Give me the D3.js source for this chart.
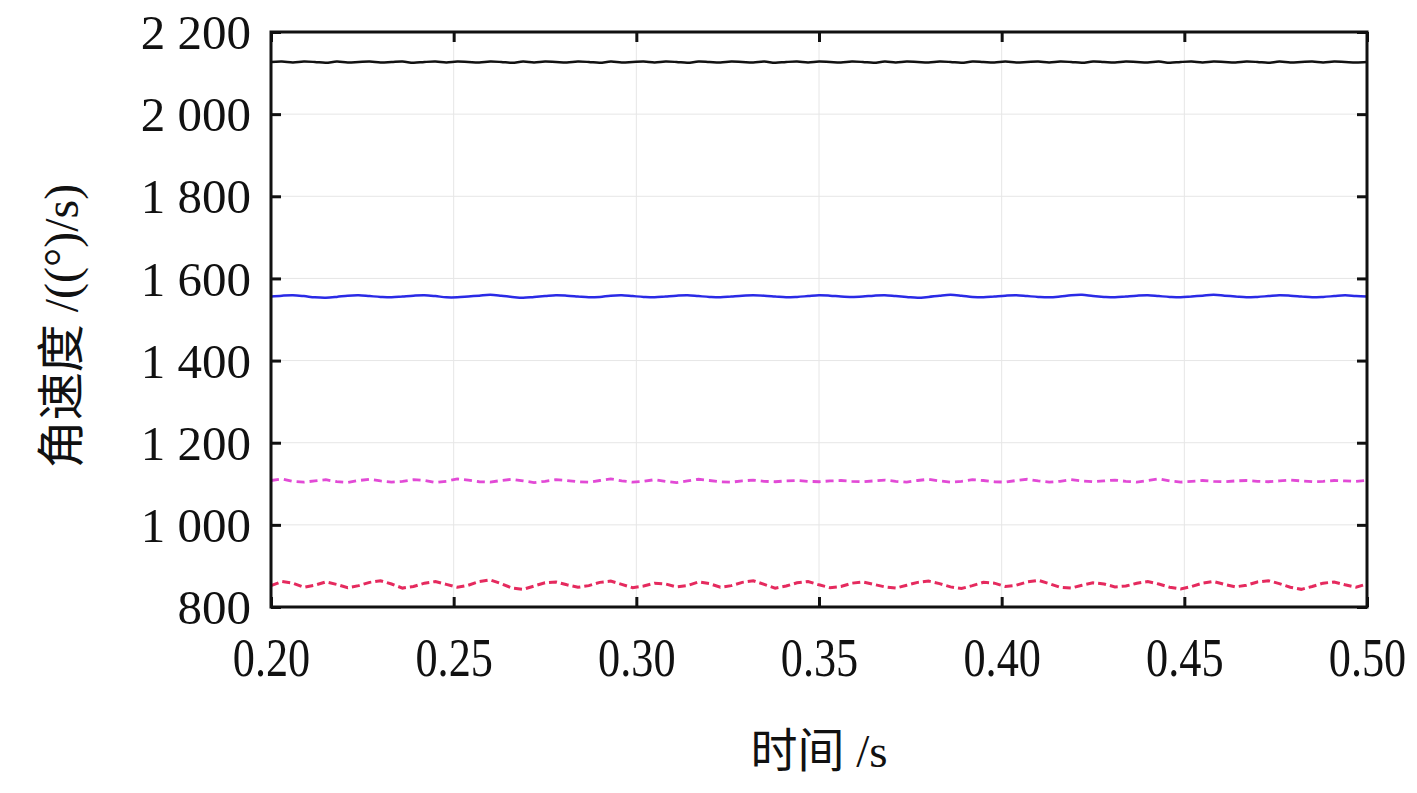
<!DOCTYPE html>
<html><head><meta charset="utf-8">
<script src="https://cdn.jsdelivr.net/npm/d3@7/dist/d3.min.js"></script>
<style>
html,body{margin:0;padding:0;background:#fff;}
svg{display:block;}
</style>
</head><body>
<svg id="chart" width="1417" height="793"></svg>
<script>
const xTicks = [0.20,0.25,0.30,0.35,0.40,0.45,0.50];
const yTicks = [800,1000,1200,1400,1600,1800,2000,2200];
const xTitle = "时间 /s";
const yTitle = "角速度 /((°)/s)";

const time = [0.200,0.203,0.206,0.209,0.212,0.215,0.218,0.221,0.224,0.227,
0.230,0.233,0.236,0.239,0.242,0.245,0.248,0.251,0.254,0.257,
0.260,0.263,0.266,0.269,0.272,0.275,0.278,0.281,0.284,0.287,
0.290,0.293,0.296,0.299,0.302,0.305,0.308,0.311,0.314,0.317,
0.320,0.323,0.326,0.329,0.332,0.335,0.338,0.341,0.344,0.347,
0.350,0.353,0.356,0.359,0.362,0.365,0.368,0.371,0.374,0.377,
0.380,0.383,0.386,0.389,0.392,0.395,0.398,0.401,0.404,0.407,
0.410,0.413,0.416,0.419,0.422,0.425,0.428,0.431,0.434,0.437,
0.440,0.443,0.446,0.449,0.452,0.455,0.458,0.461,0.464,0.467,
0.470,0.473,0.476,0.479,0.482,0.485,0.488,0.491,0.494,0.497,
0.500];

const blackSeries = [2127,2128,2126,2128,2127,2125,2128,2126,2127,2128,
2126,2127,2128,2125,2127,2128,2126,2128,2127,2126,
2128,2127,2125,2128,2126,2128,2127,2126,2128,2127,
2125,2128,2126,2127,2128,2126,2128,2127,2125,2128,
2127,2126,2128,2127,2126,2128,2125,2127,2128,2126,
2128,2127,2126,2128,2127,2125,2128,2126,2128,2127,
2126,2128,2127,2125,2128,2127,2126,2128,2126,2127,
2128,2126,2128,2127,2125,2128,2127,2126,2128,2127,
2126,2128,2125,2127,2128,2126,2128,2127,2126,2128,
2127,2125,2128,2126,2127,2128,2126,2128,2127,2126,
2127];

const blueSeries = [1556,1558,1559,1557,1554,1553,1555,1558,1559,1557,
1555,1554,1556,1558,1559,1557,1554,1554,1556,1558,
1560,1558,1555,1553,1555,1557,1559,1558,1556,1554,
1555,1558,1559,1557,1555,1554,1556,1558,1559,1557,
1555,1554,1556,1558,1559,1558,1556,1554,1555,1557,
1559,1558,1556,1555,1556,1558,1559,1557,1555,1553,
1555,1558,1560,1558,1555,1554,1556,1558,1559,1557,
1555,1554,1556,1559,1560,1557,1555,1554,1556,1558,
1559,1557,1555,1554,1556,1558,1560,1558,1556,1554,
1555,1557,1559,1558,1556,1554,1555,1557,1559,1557,
1556];

const magentaSeries = [1108,1112,1106,1104,1107,1110,1105,1103,1108,1111,
1107,1104,1106,1110,1108,1103,1106,1112,1109,1105,
1104,1108,1111,1107,1103,1106,1110,1108,1105,1104,
1108,1112,1107,1104,1106,1110,1106,1103,1107,1111,
1108,1105,1104,1107,1109,1106,1105,1107,1108,1106,
1105,1107,1108,1106,1105,1107,1109,1106,1104,1108,
1111,1107,1104,1106,1110,1108,1105,1104,1108,1111,
1107,1104,1106,1110,1107,1105,1107,1109,1106,1104,
1108,1112,1107,1104,1106,1108,1106,1105,1107,1108,
1106,1105,1107,1109,1107,1105,1106,1108,1107,1106,
1108];

const redSeries = [852,862,858,848,853,861,855,847,852,860,
864,856,846,850,858,862,855,848,853,862,
866,857,846,843,851,859,861,854,848,852,
860,863,855,847,851,858,856,849,852,861,
857,848,852,860,864,855,846,851,859,862,
854,847,850,858,861,855,849,846,853,860,
863,857,849,845,852,860,858,850,853,861,
865,857,848,846,853,859,856,849,851,858,
862,856,848,844,850,858,862,855,849,853,
861,864,857,848,843,850,858,861,854,848,
856];

const seriesList = [
  {values: blackSeries, color: "#111111", dash: null, width: 2.5, curve: d3.curveCatmullRom.alpha(0.5)},
  {values: blueSeries, color: "#2a2ae6", dash: null, width: 2.5, curve: d3.curveCatmullRom.alpha(0.5)},
  {values: magentaSeries, color: "#e24ad6", dash: "8,5", width: 2.8, curve: d3.curveLinear},
  {values: redSeries, color: "#e52a5e", dash: "8,4", width: 3, curve: d3.curveLinear}
];

const svg = d3.select("#chart");
const M = {left: 271, right: 1367, top: 32, bottom: 607};
const x = d3.scaleLinear().domain([0.20, 0.50]).range([M.left, M.right]);
const y = d3.scaleLinear().domain([800, 2200]).range([M.bottom, M.top]);

const fmtY = d => { const s = String(d); return s.length > 3 ? s.slice(0, s.length-3) + " " + s.slice(-3) : s; };

// gridlines
const grid = svg.append("g");
grid.selectAll("line.gx").data(xTicks.slice(1, -1)).enter().append("line")
  .attr("x1", d => x(d)).attr("x2", d => x(d)).attr("y1", M.top).attr("y2", M.bottom)
  .attr("stroke", "#e6e6e6").attr("stroke-width", 1);
grid.selectAll("line.gy").data(yTicks.slice(1, -1)).enter().append("line")
  .attr("y1", d => y(d)).attr("y2", d => y(d)).attr("x1", M.left).attr("x2", M.right)
  .attr("stroke", "#e6e6e6").attr("stroke-width", 1);

// series
svg.append("clipPath").attr("id", "clip").append("rect")
  .attr("x", M.left).attr("y", M.top).attr("width", M.right - M.left).attr("height", M.bottom - M.top);
const lines = svg.append("g").attr("clip-path", "url(#clip)");
seriesList.forEach(s => {
  const line = d3.line().x((d, i) => x(time[i])).y(d => y(d)).curve(s.curve);
  lines.append("path").datum(s.values).attr("d", line)
    .attr("fill", "none").attr("stroke", s.color).attr("stroke-width", s.width)
    .attr("stroke-dasharray", s.dash);
});

// axes with inward ticks
const tickLen = 10;
const axBottom = d3.axisBottom(x).tickValues(xTicks).tickSize(-tickLen).tickPadding(31).tickFormat(d3.format(".2f"));
const axTop = d3.axisTop(x).tickValues(xTicks).tickSize(-tickLen).tickFormat("");
const axLeft = d3.axisLeft(y).tickValues(yTicks).tickSize(-tickLen).tickPadding(20).tickFormat(fmtY);
const axRight = d3.axisRight(y).tickValues(yTicks).tickSize(-tickLen).tickFormat("");

function style(g){
  g.select(".domain").remove();
  g.selectAll(".tick line").attr("stroke", "#111").attr("stroke-width", 3);
  g.selectAll("text").attr("fill", "#111").attr("font-family", "'Liberation Serif', 'Times New Roman', serif");
}
const gB = svg.append("g").attr("transform", `translate(0,${M.bottom})`).call(axBottom).call(style);
gB.selectAll("text").attr("font-size", 54).attr("dy", "0.71em").attr("transform", "scale(0.82,1)");
svg.append("g").attr("transform", `translate(0,${M.top})`).call(axTop).call(style);
const gL = svg.append("g").attr("transform", `translate(${M.left},0)`).call(axLeft).call(style);
gL.selectAll("text").attr("font-size", 49).attr("dy", "0.34em");
svg.append("g").attr("transform", `translate(${M.right},0)`).call(axRight).call(style);

// frame
svg.append("rect").attr("x", M.left).attr("y", M.top).attr("width", M.right - M.left).attr("height", M.bottom - M.top)
  .attr("fill", "none").attr("stroke", "#111").attr("stroke-width", 3);

// titles
svg.append("text").attr("x", 819).attr("y", 767).attr("text-anchor", "middle")
  .attr("font-family", "'Liberation Serif', 'Noto Sans CJK SC', serif").attr("font-size", 47).attr("fill", "#111")
  .text(xTitle);
svg.append("text").attr("transform", "translate(78,326) rotate(-90)").attr("text-anchor", "middle")
  .attr("font-family", "'Liberation Serif', 'Noto Sans CJK SC', serif").attr("font-size", 48).attr("fill", "#111")
  .text(yTitle);
</script>
</body></html>
